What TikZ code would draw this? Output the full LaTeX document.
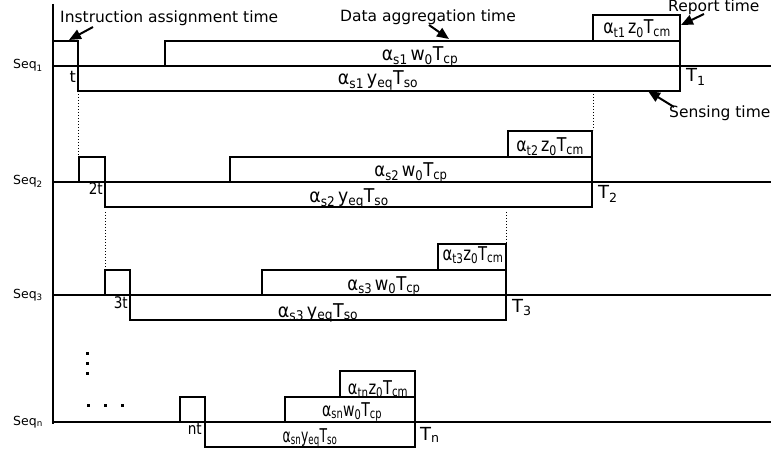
\documentclass[tikz,border=0pt]{standalone}
\usepackage{fontspec}
\setmainfont{DejaVu Sans}
\usetikzlibrary{arrows.meta}
\newcommand\sbx[1]{\textsubscript{#1}}
\newcommand\squeeze[2]{\scalebox{#1}[1]{#2}}
\begin{document}
\begin{tikzpicture}[x=1pt,y=-1pt,
  wire/.style={line width=2.9pt, line join=miter},
  baseline/.style={line width=2.6pt},
  guide/.style={dotted, line width=1pt},
  note/.style={font=\fontsize{15.5}{18}\selectfont, inner sep=0pt},
  ptr/.style={-{Triangle[length=12pt,width=10pt]}, line width=2pt},
  lbl/.style={font=\fontsize{19}{22}\selectfont, inner sep=0pt, anchor=base},
  seqlbl/.style={font=\fontsize{12.5}{15}\selectfont, inner sep=0pt, anchor=base east},
  tend/.style={font=\fontsize{18}{20}\selectfont, inner sep=0pt, anchor=base west},
  tick/.style={font=\fontsize{16}{18}\selectfont, inner sep=0pt, anchor=base east},
  dotmark/.style={fill=black, draw=none},
]
\useasboundingbox (0,0) rectangle (771,457);

% time axis
\draw[wire] (53,4) -- (53,424);

% one timeline per sequence:
% instruction box a..b, data box d..e, report box r..e, baseline at y
\foreach \a/\b/\d/\r/\e/\y in {53/78/165/593/680/66, 79/105/230/508/592/182,
                               105/130/262/438/506/295, 180/205/285/340/415/422}{
  \draw[baseline] (53,\y) -- (771,\y);
  \draw[wire] (\d,\y) -- (\d,\y-25) -- (\e,\y-25);
  \draw[wire] (\r,\y-25) -- (\r,\y-51) -- (\e,\y-51) -- (\e,\y+25)
              -- (\b,\y+25) -- (\b,\y-25) -- (\a,\y-25) -- (\a,\y);
}

% sequence names
\node[seqlbl] (s1) at (43,69)  {Seq\sbx{1}};
\node[seqlbl] (s2) at (43,185) {Seq\sbx{2}};
\node[seqlbl] (s3) at (43,298) {Seq\sbx{3}};
\node[seqlbl] (sn) at (43,425) {Seq\sbx{n}};

% instruction offsets
\node[tick] (t1) at (76,83)  {t};
\node[tick] (t2) at (103,195) {\squeeze{0.85}{2t}};
\node[tick] (t3) at (128,308) {\squeeze{0.85}{3t}};
\node[tick] (tn) at (202,434) {\squeeze{0.85}{nt}};

% end times
\node[tend] (e1) at (686,82)  {T\sbx{1}};
\node[tend] (e2) at (598,199) {T\sbx{2}};
\node[tend] (e3) at (512,312) {T\sbx{3}};
\node[tend] (en) at (420,440) {T\sbx{n}};

% sequence 1 intervals
\node[lbl] (r1) at (637,34) {\squeeze{0.83}{α\sbx{t1}\,z\sbx{0}T\sbx{cm}}};
\node[lbl] (d1) at (420,61) {\squeeze{0.91}{α\sbx{s1}\,w\sbx{0}T\sbx{cp}}};
\node[lbl] (g1) at (378,85) {\squeeze{0.92}{α\sbx{s1}\,y\sbx{eq}T\sbx{so}}};
% sequence 2 intervals
\node[lbl] (r2) at (550,152) {\squeeze{0.83}{α\sbx{t2}\,z\sbx{0}T\sbx{cm}}};
\node[lbl] (d2) at (411,177) {\squeeze{0.87}{α\sbx{s2}\,w\sbx{0}T\sbx{cp}}};
\node[lbl] (g2) at (349,203) {\squeeze{0.91}{α\sbx{s2}\,y\sbx{eq}T\sbx{so}}};
% sequence 3 intervals
\node[lbl] (r3) at (473,260) {\squeeze{0.78}{α\sbx{t3}z\sbx{0}T\sbx{cm}}};
\node[lbl] (d3) at (384,290) {\squeeze{0.87}{α\sbx{s3}\,w\sbx{0}T\sbx{cp}}};
\node[lbl] (g3) at (318,317) {\squeeze{0.92}{α\sbx{s3}\,y\sbx{eq}T\sbx{so}}};
% sequence n intervals
\node[lbl] (rn) at (378,394) {\squeeze{0.77}{α\sbx{tn}z\sbx{0}T\sbx{cm}}};
\node[lbl] (dn) at (352,416) {\squeeze{0.74}{α\sbx{sn}w\sbx{0}T\sbx{cp}}};
\node[lbl] (gn) at (310,442) {\squeeze{0.65}{α\sbx{sn}y\sbx{eq}T\sbx{so}}};

% alignment guides between consecutive sequences
\coordinate (u1) at (78,94);   \coordinate (v1) at (78,155);
\coordinate (u2) at (593,94);  \coordinate (v2) at (593,130);
\coordinate (u3) at (105,212); \coordinate (v3) at (105,267);
\coordinate (u4) at (506,212); \coordinate (v4) at (506,243);
\draw[guide] (u1) -- (v1);
\draw[guide] (u2) -- (v2);
\draw[guide] (u3) -- (v3);
\draw[guide] (u4) -- (v4);

% elided sequences
\fill[dotmark] (86,352) rectangle (88.5,354.5);
\fill[dotmark] (86,362) rectangle (88.5,364.5);
\fill[dotmark] (86,372) rectangle (88.5,374.5);
\fill[dotmark] (87,404) rectangle (90,407);
\fill[dotmark] (104,404) rectangle (107,407);
\fill[dotmark] (121,404) rectangle (124,407);

% phase captions with pointers
\node[note, anchor=base west] (ia) at (60,23)  {Instruction assignment time};
\node[note, anchor=base west] (da) at (340,22) {Data aggregation time};
\node[note, anchor=base west] (rt) at (668,12)  {Report time};
\node[note, anchor=base west] (st) at (669,118) {Sensing time};

\coordinate (iaT) at (93,27);  \coordinate (iaH) at (69,40);
\coordinate (daT) at (429,25); \coordinate (daH) at (449,39);
\coordinate (rtT) at (704,14); \coordinate (rtH) at (681,25);
\coordinate (stT) at (674,107); \coordinate (stH) at (648,91);
\draw[ptr] (iaT) -- (iaH);
\draw[ptr] (daT) -- (daH);
\draw[ptr] (rtT) -- (rtH);
\draw[ptr] (stT) -- (stH);
\end{tikzpicture}
\end{document}
